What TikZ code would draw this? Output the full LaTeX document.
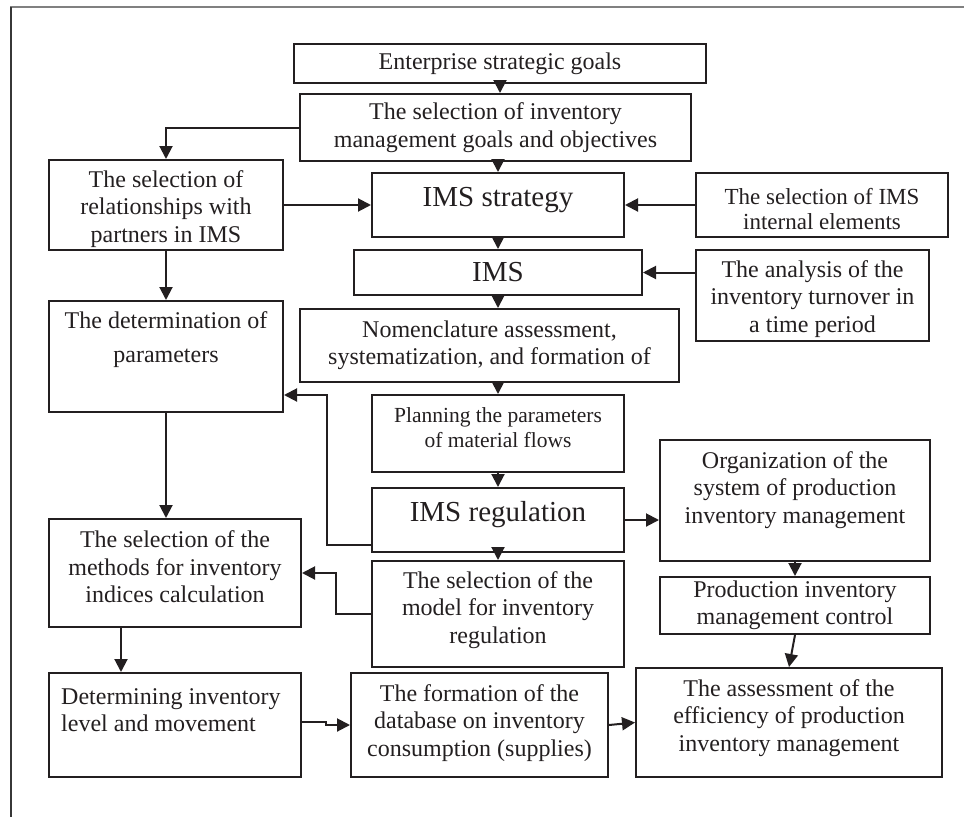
\documentclass[tikz,border=0pt]{standalone}
\usepackage{fontspec}
\setmainfont{Liberation Serif}
\usetikzlibrary{arrows.meta}
\definecolor{ink}{RGB}{35,31,32}
\definecolor{rulegray}{RGB}{128,128,128}
\definecolor{edgegray}{RGB}{55,55,55}
\begin{document}
\begin{tikzpicture}[x=1pt,y=-1pt,
  box/.style={draw=ink, line width=2pt, inner sep=0pt, text=ink, align=center,
              font=\fontsize{24}{27.5}\selectfont},
  txt/.style={inner sep=0pt, text=ink, align=center, font=\fontsize{24}{27.5}\selectfont},
  big/.style={font=\fontsize{29}{32}\selectfont},
  mid/.style={font=\fontsize{23}{25}\selectfont},
  small/.style={font=\fontsize{21.5}{25}\selectfont},
  arr/.style={draw=ink, line width=2pt, -{Triangle[length=13pt,width=13pt]}}]

\useasboundingbox (0,0) rectangle (964,817);

% page frame
\draw[rulegray, line width=1.5pt] (10,7) -- (964,7);
\draw[edgegray, line width=1.2pt] (11,7) -- (11,817);

% top of the chain
\node[box, minimum width=412pt, minimum height=39pt] (ent) at (500,63.5) {Enterprise strategic goals};
\node[box, minimum width=391pt, minimum height=67pt] (goals) at (495.5,127.5)
  {The selection of inventory\\management goals and objectives};

% strategy row
\node[box, minimum width=234pt, minimum height=90pt] (rel) at (166,205) {};
\node[txt] (rel-t) at (166,209) {The selection of\\relationships with\\partners in IMS};
\node[box, minimum width=252pt, minimum height=64pt] (strat) at (498,205) {};
\node[txt, big] (strat-t) at (498,200) {IMS strategy};
\node[box, minimum width=252pt, minimum height=64pt] (intel) at (822,205) {};
\node[txt, mid] (intel-t) at (822,209.5) {The selection of IMS\\internal elements};

% IMS row
\node[box, big, minimum width=288pt, minimum height=45pt] (ims) at (498,272.5) {IMS};
\node[box, minimum width=233pt, minimum height=91pt] (turn) at (812.5,295.5) {};
\node[txt] (turn-t) at (812.5,299) {The analysis of the\\inventory turnover in\\a time period};

% parameters and nomenclature
\node[box, minimum width=234pt, minimum height=111pt] (det) at (166,356.5) {};
\node[txt, anchor=north] (det-t) at (166,311) {The determination of\\[7pt]parameters};
\node[box, minimum width=379pt, minimum height=73pt] (nomen) at (489.5,345.5)
  {Nomenclature assessment,\\systematization, and formation of};
\node[box, minimum width=252pt, minimum height=77pt] (plan) at (498,433.5) {};
\node[txt, small] (plan-t) at (498,427.5) {Planning the parameters\\of material flows};

% regulation
\node[box, minimum width=252pt, minimum height=64pt] (reg) at (498,520) {};
\node[txt, big] (reg-t) at (498,515) {IMS regulation};
\node[box, minimum width=270pt, minimum height=121pt] (org) at (795,500.5) {};
\node[txt] (org-t) at (795,490) {Organization of the\\system of production\\inventory management};
\node[box, minimum width=252pt, minimum height=106pt] (model) at (498,614) {};
\node[txt] (model-t) at (498,610) {The selection of the\\model for inventory\\regulation};
\node[box, minimum width=252pt, minimum height=108pt] (methods) at (175,573) {};
\node[txt] (methods-t) at (175,567) {The selection of the\\methods for inventory\\indices calculation};
\node[box, minimum width=270pt, minimum height=57pt] (ctrl) at (795,605.5)
  {Production inventory\\management control};

% bottom row
\node[box, minimum width=252pt, minimum height=104pt] (level) at (175,725) {};
\node[txt, align=left, anchor=north west] (level-t) at (61,688) {Determining inventory\\level and movement};
\node[box, minimum width=257pt, minimum height=104pt] (db) at (479.5,725) {};
\node[txt] (db-t) at (479.5,723) {The formation of the\\database on inventory\\consumption (supplies)};
\node[box, minimum width=306pt, minimum height=109pt] (assess) at (789,722.5) {};
\node[txt] (assess-t) at (789,718) {The assessment of the\\efficiency of production\\inventory management};

% connectors
\draw[arr] (ent.south) -- (ent.south |- goals.north);
\draw[arr] (goals.west) -| (rel.north);
\draw[arr] (strat.north |- goals.south) -- (strat.north);
\draw[arr] (rel.east) -- (strat.west);
\draw[arr] (intel.west) -- (strat.east);
\draw[arr] (strat.south) -- (ims.north);
\draw[arr] (turn.west |- ims.east) -- (ims.east);
\draw[arr] (rel.south) -- (det.north);
\draw[arr] (ims.south) -- (ims.south |- nomen.north);
\draw[arr] (plan.north |- nomen.south) -- (plan.north);
\draw[arr] (plan.south) -- (reg.north);
\draw[arr] ([yshift=8pt]reg.south west) -- ++(-44,0) |- ([yshift=-38.5pt]det.east);
\draw[arr] (det.south) -- (det.south |- methods.north);
\draw[arr] (reg.east) -- (org.west |- reg.east);
\draw[arr] (reg.south) -- (model.north);
\draw[arr] (model.west) -- ++(-35,0) |- (methods.east);
\draw[arr] (org.south) -- (ctrl.north);
\draw[arr] ([xshift=-54pt]methods.south) -- ([xshift=-54pt]methods.south |- level.north);
\draw[arr] ([yshift=3pt]level.east) -- ++(24,0) -- ++(0,3) -- (db.west);
\draw[arr] (db.east) -- (assess.west);
\draw[arr] (ctrl.south) -- (assess.north);
\end{tikzpicture}
\end{document}
